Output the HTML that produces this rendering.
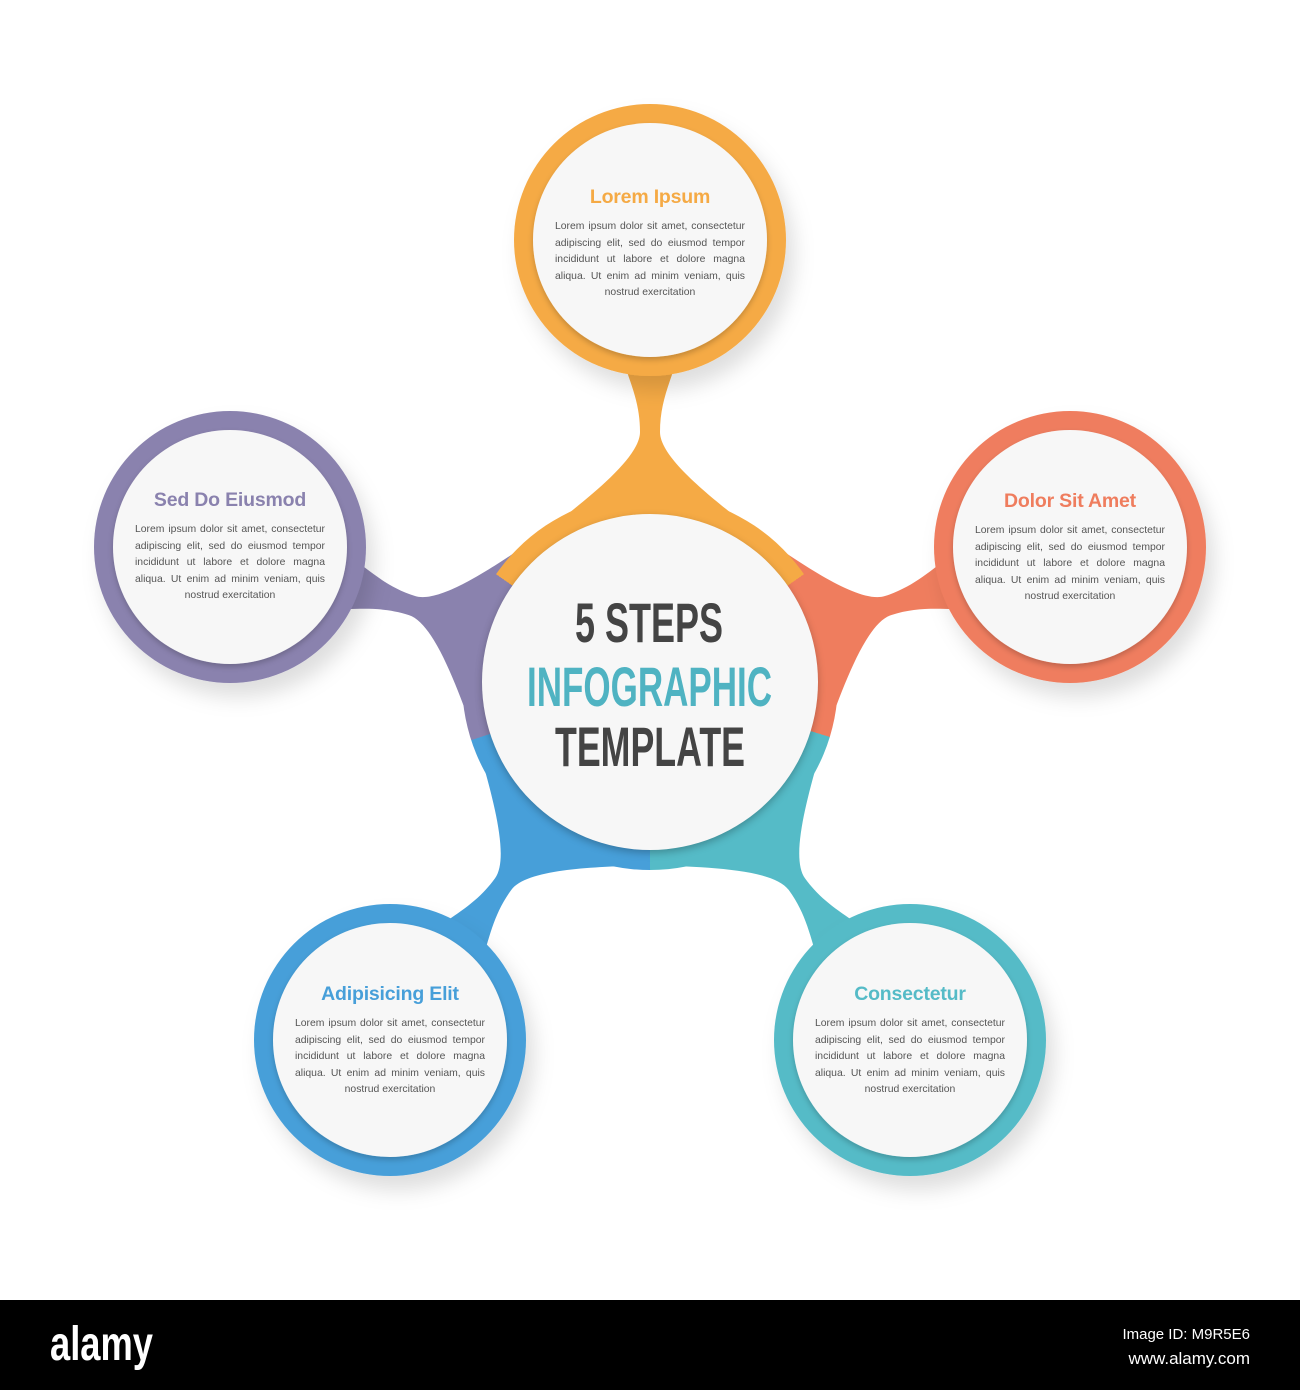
<!DOCTYPE html>
<html><head><meta charset="utf-8"><style>
body{margin:0;width:1300px;height:1390px;background:#fff;position:relative;overflow:hidden;font-family:"Liberation Sans",sans-serif}
.t{position:absolute;width:190px;text-align:center}
.t h3{margin:0 0 10px 0;font-size:19.5px;font-weight:bold;letter-spacing:-0.2px}
.t p{margin:0;font-size:10.4px;line-height:16.6px;color:#555;text-align:justify;text-align-last:center}
.ring{position:absolute;left:462px;top:494px;width:376px;height:376px;border-radius:50%;
background:conic-gradient(#f5aa45 0deg 55deg,#ef7d5e 55deg 107deg,#55bbc7 107deg 180deg,#479fd9 180deg 252deg,#8a82ae 252deg 305deg,#f5aa45 305deg 360deg)}
.inner{position:absolute;left:20px;top:20px;width:336px;height:336px;border-radius:50%;background:#f7f7f7;box-shadow:0 3px 8px rgba(0,0,0,0.25)}
</style></head><body>
<svg width="1300" height="1300" style="position:absolute;left:0;top:0">
<defs>
<filter id="sh" x="-30%" y="-30%" width="160%" height="170%"><feDropShadow dx="8" dy="14" stdDeviation="10" flood-color="#000" flood-opacity="0.13"/></filter>
<filter id="ish"><feDropShadow dx="0" dy="3" stdDeviation="3" flood-color="#000" flood-opacity="0.2"/></filter>
<path id="neck" d="M150,-105 C178,-70 222,-10 250,-10 C280,-10 300,-20 330,-30 L330,30 C300,20 280,10 250,10 C222,10 178,70 150,105 Z"/>
</defs>
<g transform="translate(650,682)">
<use href="#neck" fill="#f5aa45" transform="rotate(-90)"/>
<use href="#neck" fill="#ef7d5e" transform="rotate(-17.8)"/>
<use href="#neck" fill="#8a82ae" transform="rotate(197.8)"/>
<use href="#neck" fill="#479fd9" transform="rotate(126)"/>
<use href="#neck" fill="#55bbc7" transform="rotate(54)"/>
</g>
<g filter="url(#sh)">
<circle cx="650" cy="240" r="136" fill="#f5aa45"/>
<circle cx="1070" cy="547" r="136" fill="#ef7d5e"/>
<circle cx="230" cy="547" r="136" fill="#8a82ae"/>
<circle cx="390" cy="1040" r="136" fill="#479fd9"/>
<circle cx="910" cy="1040" r="136" fill="#55bbc7"/>
</g>
<g fill="#f7f7f7" filter="url(#ish)">
<circle cx="650" cy="240" r="117"/>
<circle cx="1070" cy="547" r="117"/>
<circle cx="230" cy="547" r="117"/>
<circle cx="390" cy="1040" r="117"/>
<circle cx="910" cy="1040" r="117"/>
</g>
</svg>
<div class="ring"><div class="inner"></div></div>
<svg width="1300" height="1300" style="position:absolute;left:0;top:0">
<g font-family="Liberation Sans, sans-serif" font-weight="bold" font-size="56">
<text x="575" y="642" textLength="148" lengthAdjust="spacingAndGlyphs" fill="#444">5 STEPS</text>
<text x="527" y="706" textLength="245" lengthAdjust="spacingAndGlyphs" fill="#4fb3c2">INFOGRAPHIC</text>
<text x="555" y="766" textLength="190" lengthAdjust="spacingAndGlyphs" fill="#444">TEMPLATE</text>
</g>
</svg>
<div class="t" style="left:555px;top:186px"><h3 style="color:#f5aa45">Lorem Ipsum</h3><p>Lorem ipsum dolor sit amet, consectetur adipiscing elit, sed do eiusmod tempor incididunt ut labore et dolore magna aliqua. Ut enim ad minim veniam, quis nostrud exercitation</p></div>
<div class="t" style="left:975px;top:490px"><h3 style="color:#ef7d5e">Dolor Sit Amet</h3><p>Lorem ipsum dolor sit amet, consectetur adipiscing elit, sed do eiusmod tempor incididunt ut labore et dolore magna aliqua. Ut enim ad minim veniam, quis nostrud exercitation</p></div>
<div class="t" style="left:135px;top:489px"><h3 style="color:#8a82ae">Sed Do Eiusmod</h3><p>Lorem ipsum dolor sit amet, consectetur adipiscing elit, sed do eiusmod tempor incididunt ut labore et dolore magna aliqua. Ut enim ad minim veniam, quis nostrud exercitation</p></div>
<div class="t" style="left:295px;top:983px"><h3 style="color:#479fd9">Adipisicing Elit</h3><p>Lorem ipsum dolor sit amet, consectetur adipiscing elit, sed do eiusmod tempor incididunt ut labore et dolore magna aliqua. Ut enim ad minim veniam, quis nostrud exercitation</p></div>
<div class="t" style="left:815px;top:983px"><h3 style="color:#55bbc7">Consectetur</h3><p>Lorem ipsum dolor sit amet, consectetur adipiscing elit, sed do eiusmod tempor incididunt ut labore et dolore magna aliqua. Ut enim ad minim veniam, quis nostrud exercitation</p></div>
<div style="position:absolute;left:0;top:1300px;width:1300px;height:90px;background:#000"></div>
<svg width="1300" height="90" style="position:absolute;left:0;top:1300px">
<text x="50" y="60" font-family="Liberation Sans, sans-serif" font-weight="bold" font-size="48" fill="#fff" textLength="103" lengthAdjust="spacingAndGlyphs">alamy</text>
<text x="1250" y="39" text-anchor="end" font-family="Liberation Sans, sans-serif" font-size="15" fill="#fff">Image ID: M9R5E6</text>
<text x="1250" y="64" text-anchor="end" font-family="Liberation Sans, sans-serif" font-size="17" fill="#fff">www.alamy.com</text>
</svg>
</body></html>
